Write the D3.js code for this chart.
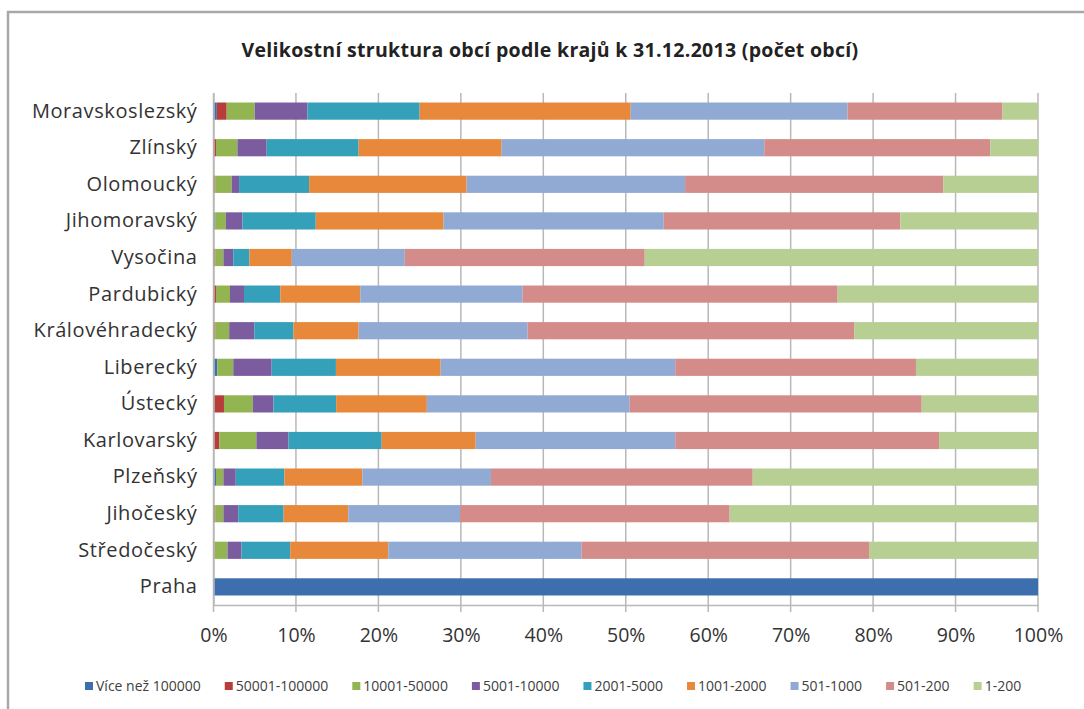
<!DOCTYPE html>
<html>
  <head>
    <meta charset="utf-8">
    <title>Velikostní struktura obcí</title>
    <script src="https://cdn.jsdelivr.net/npm/d3@7"></script>
    <style type="text/css">
      body { margin: 0; background: #fff; }
      svg { display: block; }
    </style>
  </head>
  <body>
    <script>
    //Size of the page
    var svgWidth = 1084;
    var svgHeight = 709;

    //Regions, top to bottom
    var categories = ["Moravskoslezský", "Zlínský", "Olomoucký", "Jihomoravský", "Vysočina",
      "Pardubický", "Královéhradecký", "Liberecký", "Ústecký", "Karlovarský",
      "Plzeňský", "Jihočeský", "Středočeský", "Praha"];

    //Size groups (legend order)
    var seriesNames = ["Více než 100000", "50001-100000", "10001-50000", "5001-10000",
      "2001-5000", "1001-2000", "501-1000", "501-200", "1-200"];

    var colors = ["#3d6fae", "#b83c3a", "#92b451", "#7b5c9f", "#35a0ba",
      "#e8883a", "#90aad4", "#d48c8b", "#b7cf93"];

    //Share of municipalities (%), one array per group
    var vice100k = [0.4, 0, 0, 0.2, 0, 0, 0, 0.45, 0, 0, 0.3, 0, 0, 100];
    var s50k = [1.2, 0.3, 0.2, 0, 0.2, 0.3, 0.2, 0, 1.27, 0.7, 0, 0.2, 0.1, 0];
    var s10k = [3.4, 2.6, 2.0, 1.3, 1.0, 1.7, 1.7, 1.95, 3.5, 4.5, 0.9, 1.0, 1.6, 0];
    var s5k = [6.4, 3.55, 0.9, 2.0, 1.2, 1.7, 3.05, 4.65, 2.5, 3.9, 1.5, 1.8, 1.7, 0];
    var s2k = [13.6, 11.15, 8.5, 8.9, 1.95, 4.4, 4.75, 7.8, 7.6, 11.3, 5.9, 5.5, 5.9, 0];
    var s1k = [25.6, 17.35, 19.1, 15.5, 5.15, 9.7, 7.9, 12.7, 11.0, 11.4, 9.45, 7.85, 11.9, 0];
    var s501 = [26.3, 31.85, 26.5, 26.7, 13.7, 19.7, 20.5, 28.45, 24.6, 24.2, 15.6, 13.55, 23.45, 0];
    var s200 = [18.8, 27.4, 31.3, 28.7, 29.1, 38.2, 39.6, 29.2, 35.4, 32.0, 31.75, 32.7, 34.85, 0];
    var s1 = [4.3, 5.8, 11.5, 16.7, 47.7, 24.3, 22.3, 14.8, 14.1, 12.0, 34.6, 37.4, 20.5, 0];

    var seriesValues = [vice100k, s50k, s10k, s5k, s2k, s1k, s501, s200, s1];

    var xTicks = [0, 0.1, 0.2, 0.3, 0.4, 0.5, 0.6, 0.7, 0.8, 0.9, 1];

    //Build rows for d3.stack
    var rows = categories.map(function(c, i) {
      var r = { region: c };
      seriesNames.forEach(function(s, j) { r[s] = seriesValues[j][i]; });
      return r;
    });

    var stacked = d3.stack()
      .keys(seriesNames)
      .offset(d3.stackOffsetExpand)(rows);

    var margin = { left: 213.5, right: 46, top: 93, bottom: 104 };

    var xScale = d3.scaleLinear()
      .domain([0, 1])
      .range([margin.left, svgWidth - margin.right]);

    var yScale = d3.scaleBand()
      .domain(categories)
      .range([margin.top, svgHeight - margin.bottom])
      .paddingInner(0.53)
      .paddingOuter(0.26);

    var svg = d3.select("body")
      .append("svg")
        .attr("width", svgWidth)
        .attr("height", svgHeight);

    //Chart frame
    svg.append("rect")
      .attr("x", 8)
      .attr("y", 12)
      .attr("width", 1200)
      .attr("height", 800)
      .attr("fill", "#fff")
      .attr("stroke", "#a8a8a8")
      .attr("stroke-width", 2.5);

    //Title
    svg.append("text")
      .attr("x", 550)
      .attr("y", 57)
      .attr("text-anchor", "middle")
      .attr("font-family", "Open Sans")
      .attr("font-weight", "bold")
      .attr("font-size", "19.5px")
      .attr("letter-spacing", "0.3px")
      .attr("fill", "#222")
      .text("Velikostní struktura obcí podle krajů k 31.12.2013 (počet obcí)");

    var plotBottom = svgHeight - margin.bottom;

    //Vertical gridlines
    svg.append("g")
      .selectAll("line")
      .data(xTicks)
      .enter()
      .append("line")
      .attr("x1", function(d) { return xScale(d); })
      .attr("x2", function(d) { return xScale(d); })
      .attr("y1", margin.top)
      .attr("y2", plotBottom + 7)
      .attr("stroke", "#b8b8b8")
      .attr("stroke-width", 1.5);

    //Bars
    svg.append("g")
      .selectAll("g")
      .data(stacked)
      .enter()
      .append("g")
      .attr("fill", function(d, i) { return colors[i]; })
      .selectAll("rect")
      .data(function(d) { return d; })
      .enter()
      .append("rect")
      .attr("x", function(d) { return xScale(d[0]); })
      .attr("y", function(d) { return yScale(d.data.region); })
      .attr("width", function(d) { return xScale(d[1]) - xScale(d[0]); })
      .attr("height", yScale.bandwidth());

    //Bottom axis
    var xAxis = d3.axisBottom(xScale)
      .tickValues(xTicks)
      .tickSize(0)
      .tickPadding(23)
      .tickFormat(d3.format(".0%"));

    var gx = svg.append("g")
      .attr("transform", "translate(0," + plotBottom + ")")
      .call(xAxis);
    gx.select(".domain").attr("stroke", "#b8b8b8").attr("stroke-width", 1.5);
    gx.selectAll("text")
      .attr("font-family", "Open Sans")
      .attr("font-size", "19.5px")
      .attr("fill", "#333");

    //Left axis (labels only)
    var yAxis = d3.axisLeft(yScale).tickSize(0).tickPadding(16);
    var gy = svg.append("g")
      .attr("transform", "translate(" + margin.left + ",0)")
      .call(yAxis);
    gy.select(".domain").attr("stroke", "#b8b8b8").attr("stroke-width", 1.5);
    gy.selectAll("text")
      .attr("font-family", "Open Sans")
      .attr("font-size", "20px")
      .attr("letter-spacing", "0.6px")
      .attr("fill", "#333");

    //Legend
    var legend = svg.append("g").attr("transform", "translate(0,686)");
    var lx = 85;
    seriesNames.forEach(function(name, i) {
      var item = legend.append("g").attr("transform", "translate(" + lx + ",0)");
      item.append("rect")
        .attr("x", 0)
        .attr("y", -4)
        .attr("width", 8)
        .attr("height", 8)
        .attr("fill", colors[i]);
      var t = item.append("text")
        .attr("x", 11)
        .attr("y", 4.5)
        .attr("font-family", "Open Sans")
        .attr("font-size", "14px")
        .attr("fill", "#404040")
        .text(name);
      lx += 11 + t.node().getComputedTextLength() + 24;
    });
    </script>
  </body>
</html>
